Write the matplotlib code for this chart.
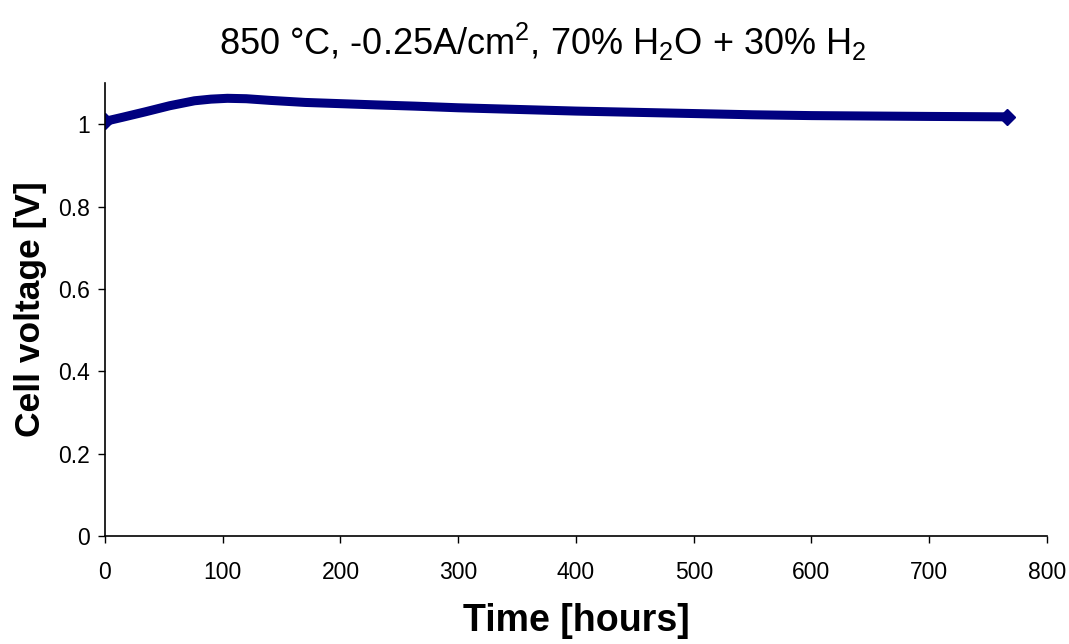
import matplotlib
matplotlib.use("Agg")
import matplotlib.pyplot as plt

plt.rcParams['font.family'] = ['Liberation Sans', 'DejaVu Sans']
plt.rcParams['mathtext.fontset'] = 'custom'
plt.rcParams['mathtext.rm'] = 'Liberation Sans'
plt.rcParams['mathtext.it'] = 'Liberation Sans:italic'
plt.rcParams['mathtext.bf'] = 'Liberation Sans:bold'

time_h = [0, 15, 34, 55, 76, 90, 104, 120, 140, 170, 200, 230, 263, 300, 350, 400, 450, 500, 550, 600, 650, 700, 766]
voltage = [1.007, 1.017, 1.030, 1.045, 1.057, 1.061, 1.063, 1.062, 1.058, 1.053, 1.050, 1.047, 1.044, 1.040, 1.036, 1.032, 1.029, 1.026, 1.023, 1.021, 1.020, 1.019, 1.018]

x_ticks = [0, 100, 200, 300, 400, 500, 600, 700, 800]
y_ticks = [0, 0.2, 0.4, 0.6, 0.8, 1]
y_tick_labels = ["0", "0.2", "0.4", "0.6", "0.8", "1"]

fig = plt.figure(figsize=(10.69, 6.44), dpi=100)
ax = fig.add_axes([0.0982, 0.1677, 0.8812, 0.7033])

ax.plot(time_h, voltage, color='#000080', linewidth=6.5, solid_capstyle='round',
        solid_joinstyle='round')
ax.plot([time_h[0], time_h[-1]], [voltage[0], voltage[-1]], linestyle='none',
        marker='D', markersize=8, color='#000080')

ax.set_xlim(0, 800)
ax.set_ylim(0, 1.1)
ax.set_xticks(x_ticks)
ax.set_yticks(y_ticks)
ax.set_yticklabels(y_tick_labels)
ax.tick_params(axis='both', direction='out', labelsize=16.5, length=5, width=1)
ax.tick_params(axis='x', pad=13)
ax.tick_params(axis='y', pad=6)
ax.spines['top'].set_visible(False)
ax.spines['right'].set_visible(False)
for s in ['left', 'bottom']:
    ax.spines[s].set_linewidth(1.2)

ax.set_xlabel('Time [hours]', fontsize=27, fontweight='bold', labelpad=14)
ax.set_ylabel('Cell voltage [V]', fontsize=25.5, fontweight='bold', labelpad=8)

fig.text(0.508, 0.935, r'850 °C, -0.25A/cm$^2$, 70% H$_2$O + 30% H$_2$',
         ha='center', va='center', fontsize=26)

fig.savefig('out.png', dpi=100)
